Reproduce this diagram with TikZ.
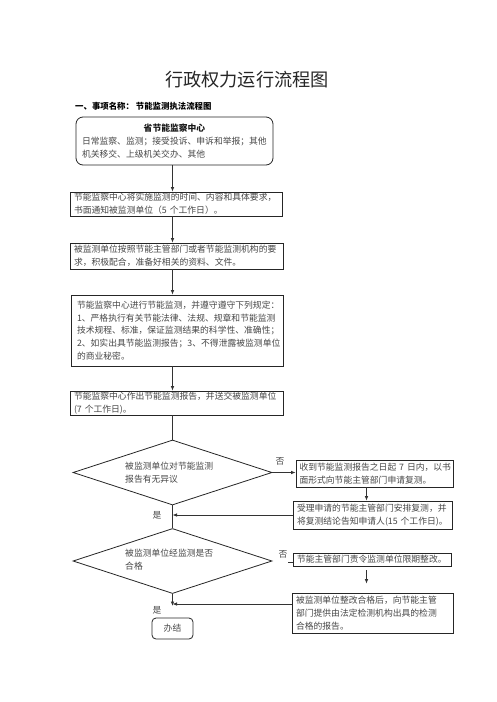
\documentclass[tikz,border=0pt]{standalone}
\usepackage{fontspec}
\setmainfont{Noto Sans CJK SC}
\usetikzlibrary{arrows.meta,shapes.geometric,shadows}
\begin{document}
\begin{tikzpicture}[x=1pt,y=-1pt,
  txt/.style={font=\fontsize{8.8}{12.8}\selectfont, text=black!72},
  box/.style={txt, draw=black!85, line width=0.8pt, fill=white,
    drop shadow={shadow xshift=1.3pt,shadow yshift=-1.3pt,opacity=0.85,fill=black!75},
    align=left, inner xsep=4pt, inner ysep=0pt},
  rbox/.style={txt, draw=black!85, line width=0.8pt, fill=white, inner sep=0pt},
  dia/.style={diamond, draw=black!85, line width=0.8pt, inner sep=0pt, minimum width=199pt, minimum height=65pt},
  lab/.style={txt, inner sep=0pt},
  arr/.style={draw=black!80, line width=0.8pt, -{Latex[length=4.5pt,width=3.6pt]}},
  ln/.style={draw=black!80, line width=0.8pt}]
\useasboundingbox (0,0) rectangle (496,702);
\fill[white] (0,0) rectangle (496,702);

\node[inner sep=0pt, font=\fontsize{18.2}{20}\selectfont, text=black!85] (title) at (247,80) {行政权力运行流程图};
\node[inner sep=0pt, anchor=west, font=\fontsize{8.4}{10}\selectfont\bfseries] (head) at (75,106) {一、事项名称：\ 节能监测执法流程图};

\node[rbox, rounded corners=7pt, minimum width=197pt, minimum height=48pt, text width=185pt, align=left] (b1) at (174.5,141)
  {\makebox[185pt]{\bfseries\color{black!90}省节能监察中心}\\日常监察、监测；接受投诉、申诉和举报；其他\\机关移交、上级机关交办、其他};

\node[box, minimum width=212pt, minimum height=24pt, text width=204pt] (b2) at (176,204)
  {节能监察中心将实施监测的时间、内容和具体要求，\\书面通知被监测单位（5~个工作日）。};
\node[box, minimum width=213pt, minimum height=26pt, text width=205pt] (b3) at (176.5,256)
  {被监测单位按照节能主管部门或者节能监测机构的要\\求，积极配合，准备好相关的资料、文件。};
\node[box, minimum width=212pt, minimum height=71pt, text width=200pt, inner xsep=6pt] (b4) at (177,330.5)
  {节能监察中心进行节能监测，并遵守遵守下列规定：\\1、严格执行有关节能法律、法规、规章和节能监测\\技术规程、标准，保证监测结果的科学性、准确性；\\2、如实出具节能监测报告；3、不得泄露被监测单位\\的商业秘密。};
\node[box, minimum width=213pt, minimum height=24pt, text width=205pt] (b5) at (176.5,403)
  {节能监察中心作出节能监测报告，并送交被监测单位\\(7~个工作日)。};

\node[dia] (d1) at (172.5,472.5) {};
\node[lab, anchor=west, align=left] (d1t) at (125,472.5) {被监测单位对节能监测\\报告有无异议};
\node[dia] (d2) at (172.5,561) {};
\node[lab, anchor=west, align=left] (d2t) at (125,559.5) {被监测单位经监测是否\\合格};

\node[box, minimum width=157pt, minimum height=27pt, text width=150pt, inner xsep=3.5pt] (b6) at (374.5,473.5)
  {收到节能监测报告之日起~7~日内，以书\\面形式向节能主管部门申请复测。};
\node[box, minimum width=159pt, minimum height=28pt, text width=151pt] (b7) at (372.5,515)
  {受理申请的节能主管部门安排复测，并\\将复测结论告知申请人(15~个工作日)。};
\node[box, minimum width=158pt, minimum height=13pt, text width=150pt] (b8) at (372,559.5)
  {节能主管部门责令监测单位限期整改。};
\node[box, minimum width=161pt, minimum height=40pt, text width=153pt] (b9) at (372.5,613)
  {被监测单位整改合格后，向节能主管\\部门提供由法定检测机构出具的检测\\合格的报告。};
\node[rbox, rounded corners=4pt, minimum width=41pt, minimum height=21pt] (end) at (172.5,628.5) {办结};

\node[lab] (no1) at (280,461) {否};
\node[lab] (no2) at (283,554) {否};
\node[lab] (yes1) at (157,515) {是};
\node[lab] (yes2) at (157,610) {是};

\coordinate (c67) at (366.5,0);
\coordinate (stub) at (288,562);
\coordinate (y604) at (0,604);

\draw[arr] (b1.south -| d1.north) -- (b2.north -| d1.north);
\draw[arr] (b2.south -| d1.north) -- (b3.north -| d1.north);
\draw[arr] (b3.south -| d1.north) -- (b4.north -| d1.north);
\draw[arr] (b4.south -| d1.north) -- (b5.north -| d1.north);
\draw[ln] (b5.south -| d1.north) -- (d1.north);
\draw[arr] (d1.east) -- (d1.east -| b6.west);
\draw[arr] (b6.south -| c67) -- (b7.north -| c67);
\draw[arr] (b7.west) -- (b7.west -| d1.south);
\draw[ln] (d1.south) -- (d2.north);
\draw[ln] (stub) -- (stub -| b8.west);
\draw[arr, shorten <=4pt, shorten >=9pt] (b8.south -| c67) -- (b9.north -| c67);
\draw[arr] (b9.west |- y604) -- (d2.south |- y604);
\draw[arr] (d2.south) -- ([yshift=-2pt]d2.south |- y604);
\end{tikzpicture}
\end{document}
